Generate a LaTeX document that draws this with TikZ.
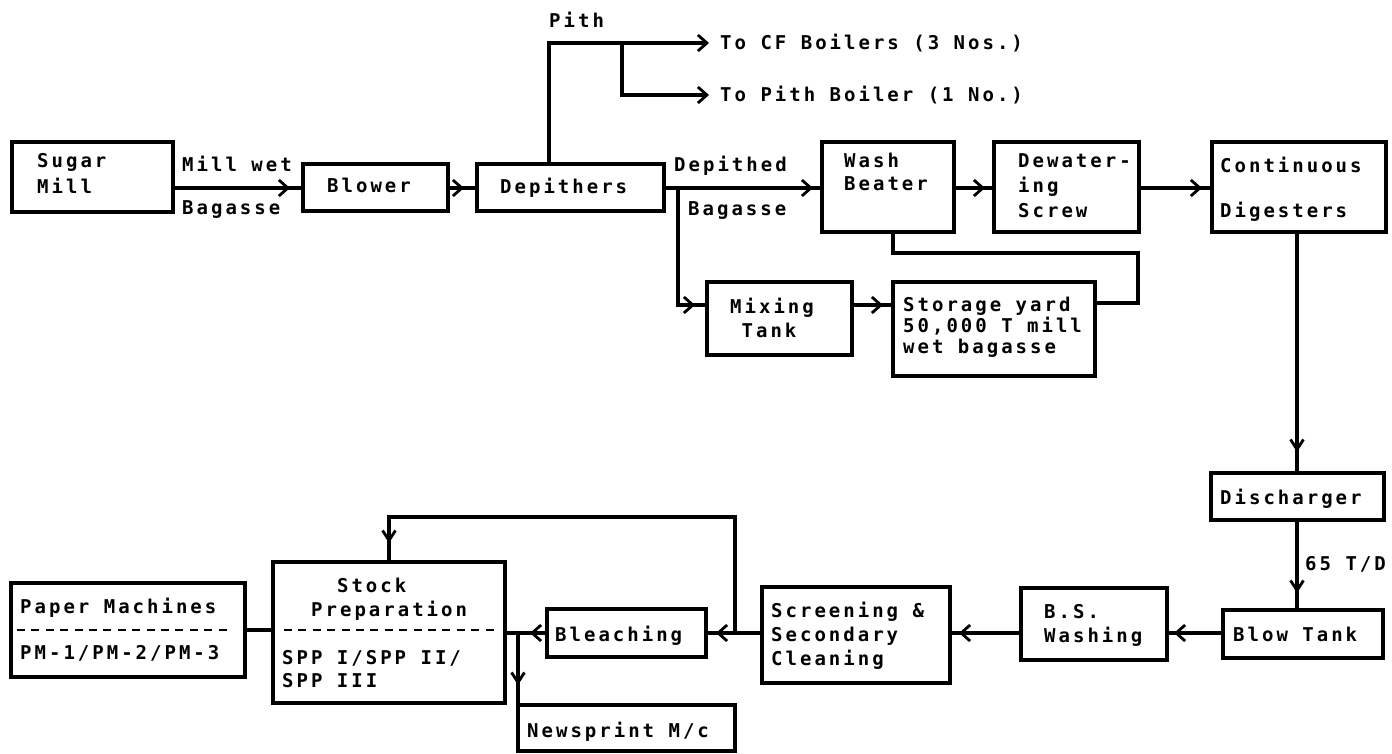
\documentclass[tikz,border=0pt]{standalone}
\usepackage{fontspec}
\newfontfamily\dm[LetterSpace=15.8]{DejaVu Sans Mono Bold}
\usetikzlibrary{arrows.meta,decorations.markings}
\begin{document}
\begin{tikzpicture}[x=1pt,y=-1pt,
  box/.style={draw, line width=3.2pt, inner sep=0pt, outer sep=0pt, anchor=north west},
  txt/.style={anchor=north west, inner sep=0pt, align=left, font={\dm\fontsize{19}{24}\selectfont}},
  lbl/.style={anchor=west, inner sep=0pt, font={\dm\fontsize{19}{24}\selectfont}},
  conn/.style={line width=3.2pt, line join=miter},
  hflow/.style={conn, postaction={decorate}, decoration={markings, mark=at position -#1 with {\arrow{Straight Barb[length=9pt,width=16pt,line width=2.8pt]}}}},
  hflow/.default=10pt,
  vflow/.style={conn, postaction={decorate}, decoration={markings, mark=at position -#1 with {\arrow{Straight Barb[length=10pt,width=13pt,line width=2.8pt]}}}},
  vflow/.default=19pt,
  tipflow/.style={conn, -{Straight Barb[length=9pt,width=16pt,line width=2.8pt]}, shorten >=11pt},
  sepline/.style={line width=2.8pt, dash pattern=on 8pt off 6.4pt}
]
\useasboundingbox (0,0) rectangle (1392,753);
\newcommand\bx[5]{\node[box, minimum width={#4-#2}, minimum height={#5-#3}] (#1) at (#2,#3) {};}

% boxes
\bx{sugar}{12}{142}{173}{212}
\bx{blower}{303}{164}{448}{211}
\bx{dep}{477}{164}{664}{211}
\bx{wb}{822}{142}{954}{232}
\bx{dw}{994}{142}{1139}{232}
\bx{dig}{1212}{142}{1386}{232}
\bx{mix}{707}{282}{852}{355}
\bx{sto}{893}{282}{1095}{376}
\bx{dis}{1211}{473}{1384}{520}
\bx{blow}{1223}{610}{1383}{658}
\bx{bsw}{1021}{588}{1167}{660}
\bx{scr}{762}{587}{950}{683}
\bx{ble}{547}{609}{706}{657}
\bx{stk}{273}{562}{505}{703}
\bx{pm}{11}{583}{245}{677}
\bx{news}{518}{705}{735}{751}

% box texts
\node[txt] (sugar-t) at (37,153) {Sugar\\[2pt]Mill};
\node[txt] (blower-t) at (327,178) {Blower};
\node[txt] (dep-t) at (500,178) {Depithers};
\node[txt] (wb-t) at (844,153) {Wash\\[-1pt]Beater};
\node[txt] (dw-t) at (1018,153) {Dewater-\\[1pt]ing\\[1pt]Screw};
\node[txt] (dig-t) at (1220,157) {Continuous\\[21pt]Digesters};
\node[txt] (mix-t) at (730,298) {Mixing\\\phantom{M}Tank};
\node[txt] (sto-t) at (903,297) {Storage yard\\[-3pt]50,000 T mill\\[-3pt]wet bagasse};
\node[txt] (dis-t) at (1220,489) {Discharger};
\node[txt] (blow-t) at (1233,627) {Blow Tank};
\node[txt] (bsw-t) at (1044,604) {B.S.\\Washing};
\node[txt] (scr-t) at (771,602) {Screening \&\\Secondary\\Cleaning};
\node[txt] (ble-t) at (555,626) {Bleaching};
\node[txt] (stk-t) at (311,578) {\phantom{Pr}Stock\\Preparation};
\node[txt] (stk-b) at (282,650) {SPP I/SPP II/\\[-1pt]SPP III};
\node[txt] (pm-t) at (20,598) {Paper Machines};
\node[txt] (pm-b) at (20,645) {PM-1/PM-2/PM-3};
\node[txt] (news-t) at (527,722) {Newsprint M/c};

% separators
\coordinate (r4) at (0,630);
\draw[sepline] ([xshift=6pt]pm.west |- r4) -- ([xshift=-13pt]pm.east |- r4);
\draw[sepline] ([xshift=11pt]stk.west |- r4) -- ([xshift=-10pt]stk.east |- r4);

% labels
\node[txt] (l-millwet) at (182,156) {Mill wet};
\node[txt] (l-bag1) at (182,200) {Bagasse};
\node[txt] (l-depithed) at (674,156) {Depithed};
\node[txt] (l-bag2) at (688,201) {Bagasse};
\node[txt] (l-pith) at (549,12) {Pith};
\node[txt] (l-65) at (1305,556) {65 T/D};
\node[lbl] (cf) at (720,43) {To CF Boilers (3 Nos.)};
\node[lbl] (pb) at (720,95) {To Pith Boiler (1 No.)};

% rows
\coordinate (r1) at (0,188);
\coordinate (r2) at (0,305);
\coordinate (r3) at (0,303);
\coordinate (row) at (0,633);

% top row flow
\draw[hflow=13pt] (sugar.east |- r1) -- (blower.west |- r1);
\draw[hflow=13pt] (blower.east |- r1) -- (dep.west |- r1);
\draw[hflow=9pt] (dep.east |- r1) -- (wb.west |- r1);
\draw[hflow=9pt] (wb.east |- r1) -- (dw.west |- r1);
\draw[hflow=10pt] (dw.east |- r1) -- (dig.west |- r1);

% pith
\coordinate (px) at (549,43);
\coordinate (j1) at (622,43);
\draw[tipflow] (dep.north -| px) -- (px) -- (cf.west);
\draw[tipflow] (j1) |- (pb.west);

% depithed branch to mixing tank
\coordinate (j2) at (678,188);
\draw[hflow=12pt] (j2) |- (mix.west |- r2);
\draw[hflow=10pt] (mix.east |- r2) -- (sto.west |- r2);

% wash beater - storage yard
\coordinate (s1) at (893,0);
\coordinate (k) at (1138,253);
\draw[conn] (wb.south -| s1) |- (k) |- (sto.east |- r3);

% digesters down
\coordinate (c1) at (1297,0);
\draw[vflow=21pt] (dig.south -| c1) -- (dis.north -| c1);
\draw[vflow=17pt] (dis.south -| c1) -- (blow.north -| c1);

% bottom row
\draw[hflow=7pt] (blow.west |- row) -- (bsw.east |- row);
\draw[hflow=9pt] (bsw.west |- row) -- (scr.east |- row);
\draw[hflow=10pt] (scr.west |- row) -- (ble.east |- row);
\draw[hflow=25pt] (ble.west |- row) -- (stk.east |- row);

% return to stock preparation
\coordinate (j3) at (735,633);
\coordinate (ret) at (389,517);
\draw[vflow=19pt] (j3) |- (ret) -- (stk.north -| ret);

% newsprint
\coordinate (j4) at (518,633);
\draw[vflow=20pt] (j4) -- (news.north -| j4);

% paper machines - stock prep
\draw[conn] (pm.east |- r4) -- (stk.west |- r4);
\end{tikzpicture}
\end{document}
